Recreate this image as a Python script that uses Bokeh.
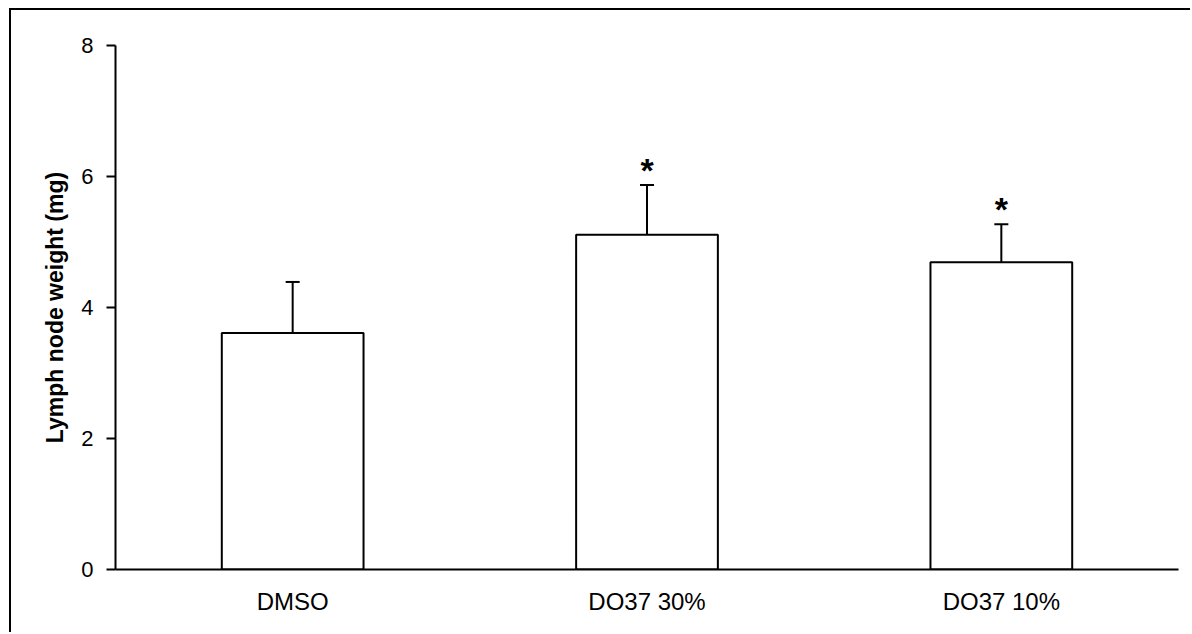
from bokeh.plotting import figure
from bokeh.models import ColumnDataSource, Range1d, FixedTicker, Whisker, TeeHead
from bokeh.embed import file_html
from bokeh.resources import INLINE
from bokeh.core.properties import value

# Group labels, mean lymph node weight (mg) and the upper error (SEM)
groups = ["DMSO", "DO37 30%", "DO37 10%"]
means = [3.61, 5.11, 4.69]
errors = [0.78, 0.76, 0.58]
significant = [False, True, True]
y_ticks = [0, 2, 4, 6, 8]

xs = list(range(len(groups)))
uppers = [m + e for m, e in zip(means, errors)]

src = ColumnDataSource(dict(x=xs, top=means, upper=uppers))
star_src = ColumnDataSource(dict(
    x=[x for x, s in zip(xs, significant) if s],
    y=[u for u, s in zip(uppers, significant) if s],
    t=["*" for s in significant if s],
))

FONT = "Liberation Sans"

p = figure(width=1181, height=624, output_backend="svg", toolbar_location=None,
           x_range=Range1d(-0.5, 2.5), y_range=Range1d(0, 8),
           min_border_left=104, min_border_top=35, min_border_right=14,
           min_border_bottom=65)
p.styles = {"margin-left": "9px", "margin-top": "8px",
            "border-left": "2px solid black", "border-top": "2px solid black"}
p.outline_line_color = None
p.grid.visible = False
p.background_fill_color = "white"
p.border_fill_color = "white"

p.vbar(x="x", top="top", bottom=0, width=0.4, source=src,
       fill_color="white", line_color="black", line_width=2)

whisk = Whisker(source=src, base="x", lower="top", upper="upper",
                line_color="black", line_width=2, lower_head=None,
                upper_head=TeeHead(size=14, line_color="black", line_width=2))
p.add_layout(whisk)

# significance markers above the error caps
p.text(x="x", y="y", text="t", source=star_src, text_align="center",
       text_baseline="alphabetic", y_offset=-15,
       text_font=value(FONT), text_font_style="bold", text_font_size="34px",
       text_color="black")

# x axis: category names under each bar, no ticks
xa = p.xaxis[0]
xa.ticker = FixedTicker(ticks=xs)
xa.major_label_overrides = {i: g for i, g in enumerate(groups)}
xa.major_tick_line_color = None
xa.minor_tick_line_color = None
xa.major_tick_out = 0
xa.major_label_standoff = 18
xa.major_label_text_font = FONT
xa.major_label_text_font_size = "24px"
xa.major_label_text_color = "black"
xa.axis_line_width = 2
xa.axis_line_color = "black"

ya = p.yaxis[0]
ya.ticker = FixedTicker(ticks=y_ticks)
ya.minor_tick_line_color = None
ya.major_tick_in = 0
ya.major_tick_out = 9
ya.major_tick_line_width = 2
ya.major_label_standoff = 13
ya.major_label_text_font = FONT
ya.major_label_text_font_size = "22px"
ya.major_label_text_color = "black"
ya.axis_line_width = 2
ya.axis_line_color = "black"
ya.axis_label = "Lymph node weight (mg)"
ya.axis_label_text_font = FONT
ya.axis_label_text_font_style = "bold"
ya.axis_label_text_font_size = "23px"
ya.axis_label_text_color = "black"
ya.axis_label_standoff = 10

open("out.html", "w").write(file_html(p, INLINE))
